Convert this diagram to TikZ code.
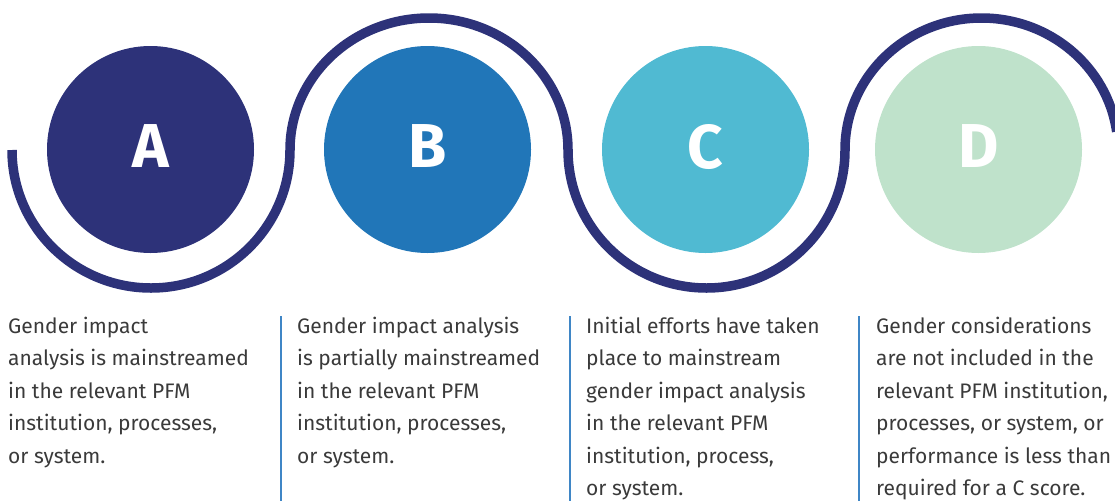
\documentclass[tikz,border=0pt]{standalone}
\usepackage{fontspec}
\setmainfont{Fira Sans}
\definecolor{navy}{HTML}{2D3279}
\definecolor{colA}{HTML}{2D3279}
\definecolor{colB}{HTML}{2176B8}
\definecolor{colC}{HTML}{50BAD2}
\definecolor{colD}{HTML}{BFE2CB}
\definecolor{sepblue}{HTML}{3F86C6}
\definecolor{txtgrey}{HTML}{3A3A3A}
\tikzset{
  circ/.style={circle, minimum size=207pt, inner sep=0pt},
  letter/.style={inner sep=0pt, text=white, text depth=0pt,
    font=\fontsize{62}{62}\selectfont\bfseries},
  wave/.style={draw=navy, line width=9.5pt},
  sepline/.style={draw=sepblue, line width=1.4pt},
  desc/.style={align=left, inner sep=0pt, text=txtgrey,
    font=\fontsize{21}{32.5}\selectfont, anchor=base west}
}
\begin{document}
\begin{tikzpicture}[x=1pt,y=-1pt]
\useasboundingbox (0,0) rectangle (1115,501);
\begin{scope}
\clip (0,0) rectangle (1115,501);
\node[circ, fill=colA] (A) at (150.5,149.5) {};
\node[circ, fill=colB] (B) at (427.5,149.5) {};
\node[circ, fill=colC] (C) at (705.5,149.5) {};
\node[circ, fill=colD] (D) at (978.5,149.5) {};
\node[letter] (LA) at ([yshift=3pt]A.center) {A};
\node[letter] (LB) at ([yshift=3pt]B.center) {B};
\node[letter] (LC) at ([yshift=3pt]C.center) {C};
\node[letter] (LD) at ([yshift=3pt]D.center) {D};
\coordinate (w0) at (12,150);
\draw[wave] (w0)
  arc[start angle=180, end angle=0, x radius=139, y radius=138]
  arc[start angle=180, end angle=360, x radius=139, y radius=132]
  arc[start angle=180, end angle=0, x radius=138.5, y radius=138]
  arc[start angle=180, end angle=352, x radius=136.5, y radius=132];
\end{scope}
\coordinate (s1t) at (281,316); \coordinate (s1b) at (281,501);
\coordinate (s2t) at (570,316); \coordinate (s2b) at (570,501);
\coordinate (s3t) at (859,316); \coordinate (s3b) at (859,501);
\draw[sepline] (s1t) -- (s1b);
\draw[sepline] (s2t) -- (s2b);
\draw[sepline] (s3t) -- (s3b);
\node[desc] (tA) at (8,463) {Gender impact\\analysis is mainstreamed\\in the relevant PFM\\institution, processes,\\or system.};
\node[desc] (tB) at (297,463) {Gender impact analysis\\is partially mainstreamed\\in the relevant PFM\\institution, processes,\\or system.};
\node[desc] (tC) at (586,495.5) {Initial efforts have taken\\place to mainstream\\gender impact analysis\\in the relevant PFM\\institution, process,\\or system.};
\node[desc] (tD) at (876,495.5) {Gender considerations\\are not included in the\\relevant PFM institution,\\processes, or system, or\\performance is less than\\required for a C score.};
\end{tikzpicture}
\end{document}
